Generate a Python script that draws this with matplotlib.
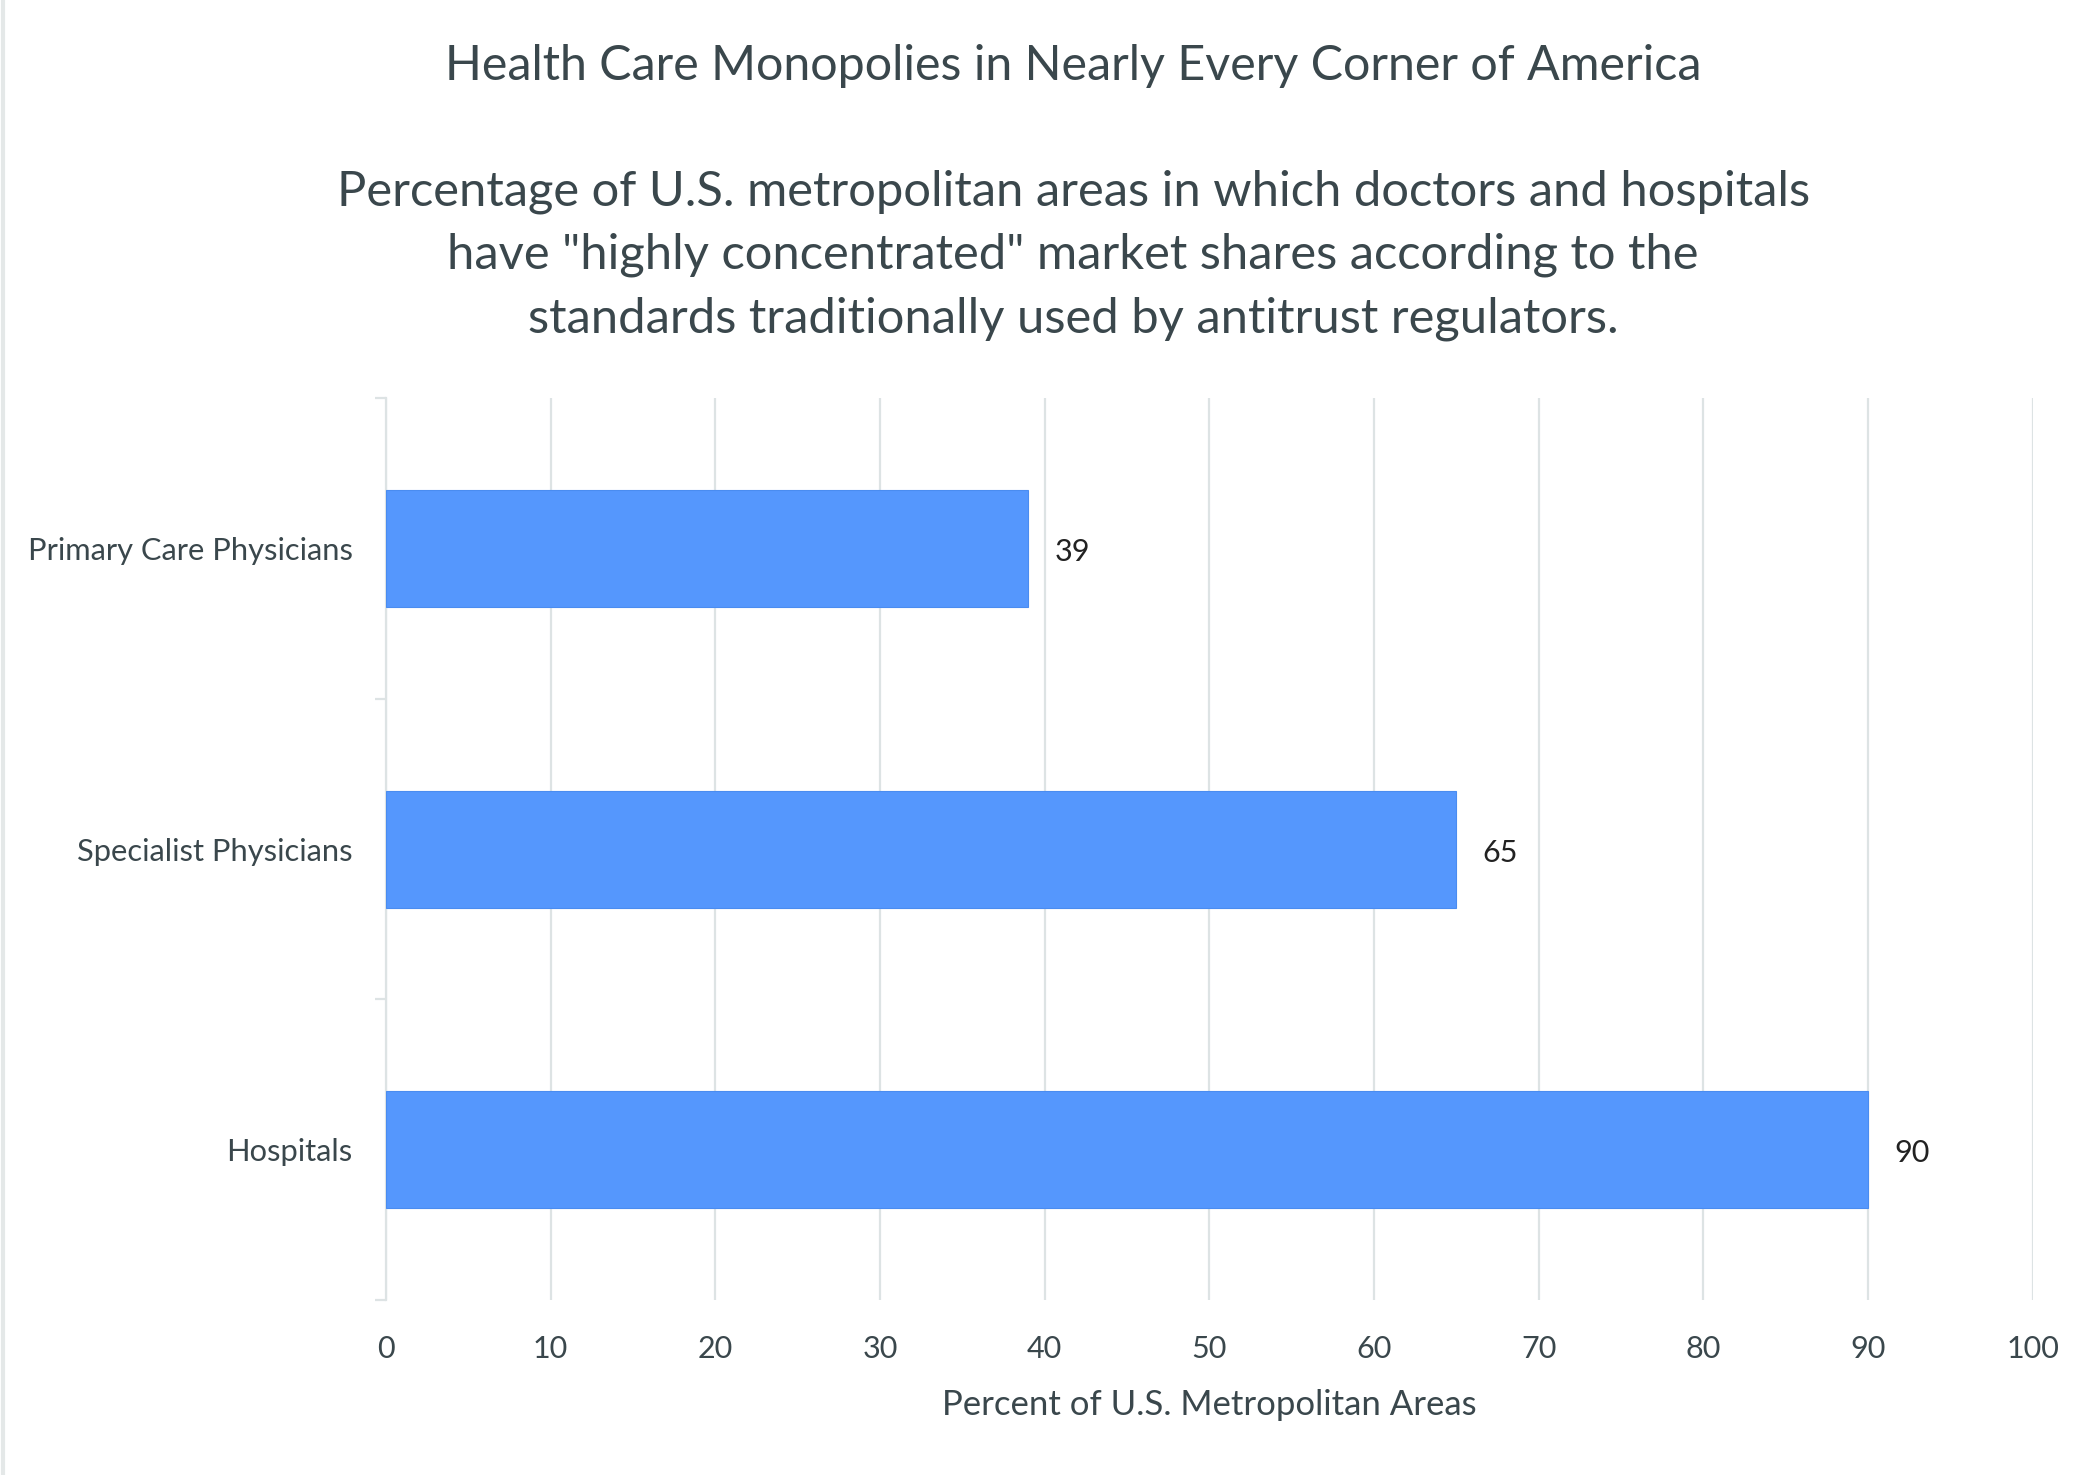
import matplotlib
matplotlib.use("Agg")
import matplotlib.pyplot as plt
from matplotlib.lines import Line2D

categories = ["Primary Care Physicians", "Specialist Physicians", "Hospitals"]
values = [39, 65, 90]
xticks = [0, 10, 20, 30, 40, 50, 60, 70, 80, 90, 100]

title = "Health Care Monopolies in Nearly Every Corner of America"
subtitle = ("Percentage of U.S. metropolitan areas in which doctors and hospitals\n"
            "have \"highly concentrated\" market shares according to the\n"
            "standards traditionally used by antitrust regulators.")
xlabel = "Percent of U.S. Metropolitan Areas"

plt.rcParams['font.family'] = ['Lato', 'DejaVu Sans']
TEXT = "#3a474c"
BAR = "#5597fd"
GRID = "#dde3e4"

fig = plt.figure(figsize=(21, 14.75), dpi=100)
ax = fig.add_axes([0.1838, 0.1186, 0.968 - 0.1838, 0.730 - 0.1186])

pos = list(range(len(categories)))
ax.barh(pos, values, height=0.39, color=BAR, edgecolor="#4a8cf0", linewidth=0.8, zorder=3)
for p, v in zip(pos, values):
    ax.text(v + 1.6, p + 0.012, str(v), va="center", ha="left", fontsize=22, color="#222222")

ax.set_xlim(0, 100)
ax.set_ylim(2.5, -0.5)
ax.set_xticks(xticks)
ax.set_xticklabels([str(t) for t in xticks])
ax.set_yticks(pos)
ax.set_yticklabels(categories)
ax.set_yticks([-0.5, 0.5, 1.5, 2.5], minor=True)

ax.grid(axis="x", color=GRID, linewidth=1.6, zorder=0)
for s in ["top", "right", "bottom"]:
    ax.spines[s].set_visible(False)
ax.spines["left"].set_color(GRID)
ax.spines["left"].set_linewidth(1.6)

ax.tick_params(axis="x", length=0, pad=25, labelsize=22, labelcolor=TEXT)
ax.tick_params(axis="y", which="major", length=0, pad=24, labelsize=22.2, labelcolor=TEXT)
ax.tick_params(axis="y", which="minor", length=8, width=1.6, color=GRID)

ax.set_xlabel(xlabel, fontsize=25, color=TEXT, labelpad=19)

fig.text(0.511, 0.955, title, ha="center", va="center", fontsize=34.8, color=TEXT)
fig.text(0.511, 0.827, subtitle, ha="center", va="center", fontsize=35.2, color=TEXT,
         linespacing=1.53)

fig.add_artist(Line2D([0.0012, 0.0012], [0, 1], transform=fig.transFigure,
                      color="#e4e8e8", linewidth=3))

fig.savefig("out.png", dpi=100, facecolor="white")
